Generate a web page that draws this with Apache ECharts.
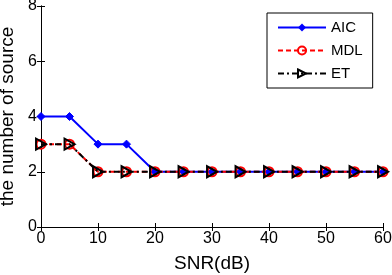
<!DOCTYPE html>
<html><head><meta charset="utf-8">
<script src="https://cdn.jsdelivr.net/npm/echarts@6/dist/echarts.min.js"></script>
<style>html,body{margin:0;padding:0;background:#fff}#c{width:392px;height:275px}</style>
</head><body><div id="c"></div>
<script>
var snr = [0,5,10,15,20,25,30,35,40,45,50,55,60];
var aic = [4,4,3,3,2,2,2,2,2,2,2,2,2];
var mdl = [3,3,2,2,2,2,2,2,2,2,2,2,2];
var et  = [3,3,2,2,2,2,2,2,2,2,2,2,2];
var xTicks = [0,10,20,30,40,50,60];
var yTicks = [0,2,4,6,8];

function pairs(xs, ys){ return xs.map(function(x,i){return [x, ys[i]];}); }
var font = 'Liberation Sans, Arial, sans-serif';
var chart = echarts.init(document.getElementById('c'));
var axLine = {show:true, lineStyle:{color:'#000', width:1}};
chart.setOption({
  animation:false,
  backgroundColor:'#fff',
  grid:{left:41, top:6, right:9, bottom:48, containLabel:false, outerBoundsMode:'none'},
  legend:{
    orient:'vertical', left:267, top:13, width:107,
    itemWidth:48, itemHeight:10, itemGap:8,
    padding:[7,10,7,10],
    borderColor:'#000', borderWidth:1, backgroundColor:'#fff',
    textStyle:{fontFamily:font, fontSize:15, color:'#000'},
    data:['AIC','MDL','ET']
  },
  xAxis:[{
    type:'value', min:0, max:60, interval:10,
    name:'SNR(dB)', nameLocation:'middle', nameGap:27,
    nameTextStyle:{fontFamily:font, fontSize:19, color:'#000'},
    axisLine:axLine, axisTick:{inside:true, length:4, lineStyle:{color:'#000'}},
    axisLabel:{fontFamily:font, fontSize:16, color:'#000', margin:4},
    splitLine:{show:false}
  },{
    type:'value', position:'top', min:0, max:60, interval:10,
    axisLine:axLine, axisTick:{inside:true, length:4, lineStyle:{color:'#000'}},
    axisLabel:{show:false}, splitLine:{show:false}
  }],
  yAxis:[{
    type:'value', min:0, max:8, interval:2,
    name:'the number of source', nameLocation:'middle', nameGap:19,
    nameTextStyle:{fontFamily:font, fontSize:19, color:'#000'},
    axisLine:axLine, axisTick:{inside:true, length:4, lineStyle:{color:'#000'}},
    axisLabel:{fontFamily:font, fontSize:16, color:'#000', margin:4},
    splitLine:{show:false}
  },{
    type:'value', position:'right', min:0, max:8, interval:2,
    axisLine:axLine, axisTick:{inside:true, length:4, lineStyle:{color:'#000'}},
    axisLabel:{show:false}, splitLine:{show:false}
  }],
  series:[{
    name:'AIC', type:'line', data:pairs(snr, aic),
    symbol:'diamond', symbolSize:8, showAllSymbol:true,
    lineStyle:{color:'#0000ff', width:2, type:'solid'},
    itemStyle:{color:'#0000ff', borderColor:'#0000ff'}
  },{
    name:'MDL', type:'line', data:pairs(snr, mdl),
    symbol:'circle', symbolSize:9, showAllSymbol:true,
    lineStyle:{color:'#ff0000', width:2, type:[5,3]},
    itemStyle:{color:'transparent', borderColor:'#ff0000', borderWidth:2}
  },{
    name:'ET', type:'line', data:pairs(snr, et),
    symbol:'path://M0,0 L10,5 L0,10 Z', symbolSize:[10,11], showAllSymbol:true,
    lineStyle:{color:'#000', width:2, type:[6,3,2,3]},
    itemStyle:{color:'transparent', borderColor:'#000', borderWidth:2}
  }]
});
</script></body></html>
